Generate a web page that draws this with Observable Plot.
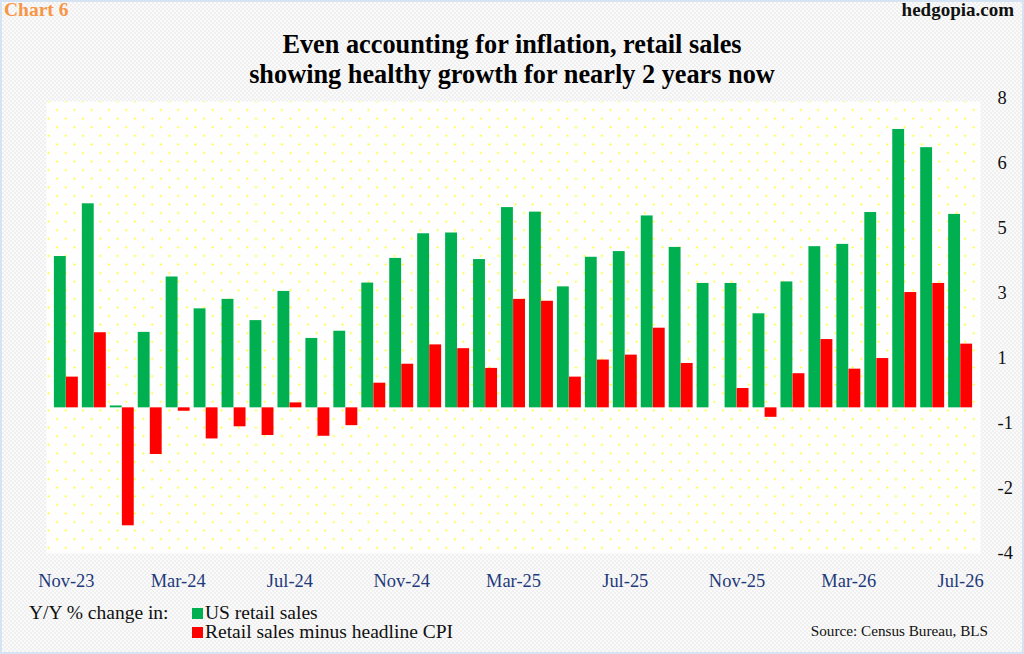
<!DOCTYPE html>
<html>
<head>
<meta charset="utf-8">
<script src="https://cdn.jsdelivr.net/npm/d3@7"></script>
<script src="https://cdn.jsdelivr.net/npm/@observablehq/plot@0.6"></script>
<style>
  body { margin: 0; }
  #page {
    position: relative; width: 1024px; height: 654px; box-sizing: border-box;
    border: 2px solid #d6e3f3;
    background-color: #f6f6f6;
    background-image: conic-gradient(#f0f0f0 25%, #fafafa 0 50%, #f0f0f0 0 75%, #fafafa 0);
    background-size: 4px 4px;
    font-family: "Liberation Serif", "Times New Roman", serif;
    overflow: hidden;
  }
  .abs { position: absolute; white-space: nowrap; }
  #chart { position: absolute; left: -2px; top: 68px; }
  .sw { position: absolute; width: 11px; height: 11px; }
  .leg { font-size: 19.5px; line-height: 20px; color: #111; }
</style>
</head>
<body>
<div id="page">
  <div class="abs" style="left:2px; top:-3px; font-size:19.5px; font-weight:bold; color:#f79646;">Chart 6</div>
  <div class="abs" style="right:8px; top:-3px; font-size:19px; font-weight:bold; color:#111;">hedgopia.com</div>
  <div class="abs" style="left:0; width:1020px; top:28px; text-align:center; font-size:26.3px; font-weight:bold; line-height:30px; color:#000;">
    Even accounting for inflation, retail sales<br>showing healthy growth for nearly 2 years now
  </div>
  <div id="chart"></div>
  <div class="abs leg" style="left:27px; top:601px;">Y/Y % change in:</div>
  <div class="sw" style="left:190px; top:606px; background:#00b050;"></div>
  <div class="abs leg" style="left:203px; top:601px;">US retail sales</div>
  <div class="sw" style="left:190px; top:625px; background:#ff0000;"></div>
  <div class="abs leg" style="left:203px; top:620px;">Retail sales minus headline CPI</div>
  <div class="abs" style="right:34px; top:620px; font-size:15.2px; color:#111;">Source: Census Bureau, BLS</div>
</div>
<script>
// months shown, Nov-23 .. Jul-26
const months = ["Nov-23","Dec-23","Jan-24","Feb-24","Mar-24","Apr-24","May-24","Jun-24","Jul-24","Aug-24","Sep-24",
  "Oct-24","Nov-24","Dec-24","Jan-25","Feb-25","Mar-25","Apr-25","May-25","Jun-25","Jul-25","Aug-25","Sep-25",
  "Oct-25","Nov-25","Dec-25","Jan-26","Feb-26","Mar-26","Apr-26","May-26","Jun-26","Jul-26"]

// US retail sales, y/y %
const retail = [3.99, 5.38, 0.05, 1.99, 3.45, 2.61, 2.86, 2.30, 3.07, 1.83, 2.02,
  3.29, 3.94, 4.59, 4.61, 3.91, 5.28, 5.16, 3.19, 3.97, 4.12, 5.06, 4.23,
  3.28, 3.28, 2.48, 3.32, 4.25, 4.31, 5.15, 7.34, 6.86, 5.10]

// retail sales minus headline CPI
const real = [0.81, 1.98, -3.11, -1.23, -0.09, -0.82, -0.50, -0.73, 0.13, -0.75, -0.47,
  0.65, 1.15, 1.66, 1.56, 1.04, 2.86, 2.81, 0.81, 1.26, 1.39, 2.10, 1.17,
  0.00, 0.51, -0.25, 0.90, 1.80, 1.02, 1.30, 3.04, 3.28, 1.68]

const xTicks = ["Nov-23","Mar-24","Jul-24","Nov-24","Mar-25","Jul-25","Nov-25","Mar-26","Jul-26"]
// excel-style axis: -4 to 8 in 7 equal steps, labels rounded
const yTickLabels = ["-4","-2","-1","1","3","5","6","8"]
const yTicks = yTickLabels.map((_, i) => -4 + i * 12 / 7)

const data = months.map((m, i) => ({month: m, retail: retail[i], real: real[i]}))

const half = 12.1

let chart = Plot.plot({
  width: 1024,
  height: 527,
  marginTop: 34,
  marginBottom: 37,
  marginLeft: 49,
  marginRight: 45,
  style: {background: "transparent", fontFamily: "Liberation Serif, Times New Roman, serif"},
  x: {domain: months, paddingInner: 0.145, paddingOuter: 0, axis: null},
  y: {domain: [-4, 8], axis: null},
  marks: [
    Plot.frame({fill: "#fefefe", stroke: null, insetTop: -3, insetBottom: 6, insetLeft: -3, insetRight: -3}),
    Plot.frame({fill: "url(#dots)", stroke: null, insetTop: -3, insetBottom: 6, insetLeft: -3, insetRight: -3}),
    Plot.barY(data, {x: "month", y: "retail", fill: "#00b050", insetRight: half}),
    Plot.barY(data, {x: "month", y: "real", fill: "#ff0000", insetLeft: half}),
    Plot.axisX({
      ticks: xTicks, tickSize: 0, tickPadding: 14, fontSize: 18.5,
      color: "#1f3a7a", label: null
    }),
    Plot.axisY({
      anchor: "right", ticks: yTicks, tickFormat: (d, i) => yTickLabels[i],
      tickSize: 0, tickPadding: 20, dy: -6, fontSize: 18.5, color: "#111", label: null
    })
  ]
})

// staggered yellow dot fill for the plot area
const defs = d3.select(chart).insert("defs", ":first-child")
const pat = defs.append("pattern")
  .attr("id", "dots").attr("patternUnits", "userSpaceOnUse")
  .attr("x", 43.7).attr("y", 26.7).attr("width", 17.33).attr("height", 17.2)
pat.append("circle").attr("cx", 4.33).attr("cy", 4.3).attr("r", 0.95).attr("fill", "#ffff00")
pat.append("circle").attr("cx", 13).attr("cy", 12.9).attr("r", 0.95).attr("fill", "#ffff00")

d3.select('#chart').append(() => chart)
</script>
</body>
</html>
